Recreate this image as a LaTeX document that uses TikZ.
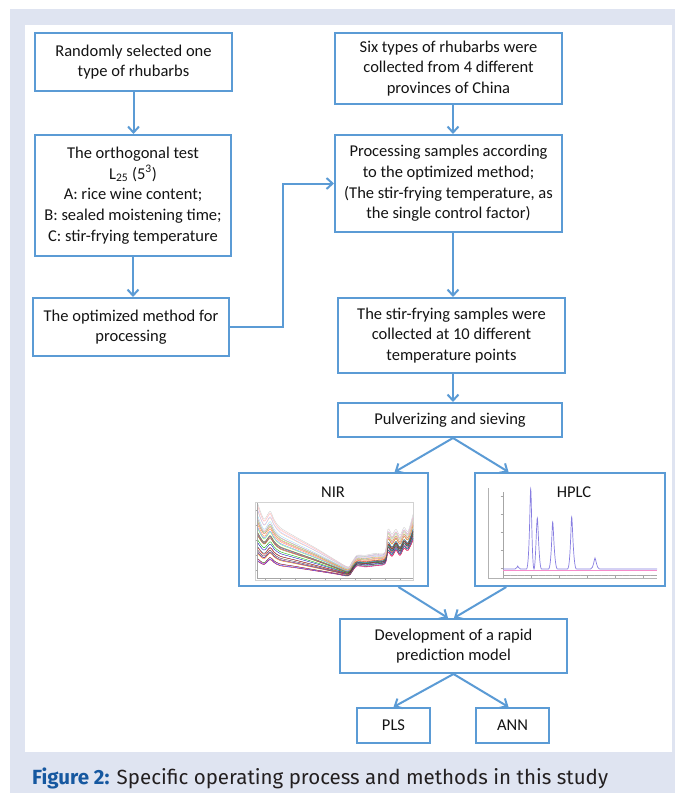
\documentclass[tikz,border=0pt]{standalone}
\usepackage{fontspec}
\setmainfont{Carlito}
\newfontfamily\capfont{Fira Sans}
\usetikzlibrary{arrows.meta,calc}
\definecolor{boxblue}{RGB}{91,155,213}
\definecolor{panelbg}{RGB}{223,228,241}
\definecolor{capblue}{RGB}{22,88,160}
\definecolor{txt}{RGB}{20,20,20}
\definecolor{captxt}{RGB}{35,31,32}
\definecolor{trace}{RGB}{135,125,225}
\begin{document}
\begin{tikzpicture}[x=1pt,y=-1pt,
  box/.style={draw=boxblue, line width=2pt, fill=white, align=center, text=txt,
    font=\fontsize{16.5}{20.6}\selectfont, inner sep=0pt},
  lbl/.style={text=txt, font=\fontsize{16.5}{20.6}\selectfont, inner sep=0pt},
  arr/.style={draw=boxblue, line width=2pt, -{Straight Barb[length=6pt,width=11pt]}},
  nirc/.style={line width=0.35pt}]
\fill[white] (0,0) rectangle (675,793);
\fill[panelbg] (10,9) rectangle (675,793);
\fill[white] (25,25) rectangle (672,752);
\useasboundingbox (0,0) rectangle (675,793);

% boxes
\node[box, minimum width=197pt, minimum height=58pt] (b1) at (133.5,62) {Randomly selected one\\type of rhubarbs};
\node[box, minimum width=227pt, minimum height=71pt] (b2) at (448.5,68.5) {Six types of rhubarbs were\\collected from 4 different\\provinces of China};
\node[box, minimum width=196pt, minimum height=121pt] (ortho) at (133,195.5) {The orthogonal test\\L\textsubscript{25} (5\textsuperscript{3})\\A: rice wine content;\\B: sealed moistening time;\\C: stir-frying temperature};
\node[box, minimum width=196pt, minimum height=58pt] (opt) at (131,327) {The optimized method for\\processing};
\node[box, minimum width=227pt, minimum height=97pt] (proc) at (448.5,183.5) {Processing samples according\\to the optimized method;\\(The stir-frying temperature, as\\the single control factor)};
\node[box, minimum width=227pt, minimum height=75pt] (stir) at (451.5,335.5) {The stir-frying samples were\\collected at 10 different\\temperature points};
\node[box, minimum width=224pt, minimum height=34pt] (pulv) at (450,420) {Pulverizing and sieving};
\node[box, minimum width=189pt, minimum height=113pt] (nir) at (333.5,529.5) {};
\node[box, minimum width=190pt, minimum height=113pt] (hplc) at (570,529.5) {};
\node[box, minimum width=227pt, minimum height=54pt] (dev) at (453.5,646) {Development of a rapid\\prediction model};
\node[box, minimum width=73pt, minimum height=35pt] (pls) at (393.5,725.5) {PLS};
\node[box, minimum width=73pt, minimum height=35pt] (ann) at (512.5,725.5) {ANN};

% NIR plot
\draw[gray!35, line width=0.3pt] (255,502) rectangle (413,580);
\draw[gray!70, line width=0.4pt] (257,503) -- (257,578) -- (413,578);
\foreach \yy in {510,525,540,555,570} \draw[gray!70, line width=0.3pt] (255.5,\yy) -- (257,\yy);
\foreach \xx in {265,280,295,310,325,340,355,370,385,400} \draw[gray!70, line width=0.3pt] (\xx,578) -- (\xx,579.5);
\pgfmathsetseed{7}
\foreach \k/\c in {0/red!80!black, 0.035/blue!80, 0.07/green!60!black, 0.1/magenta, 0.135/cyan!70!black,
  0.17/orange, 0.2/violet, 0.235/black!80, 0.27/teal, 0.3/red, 0.335/blue!70!black, 0.37/green!70!black,
  0.4/olive, 0.435/purple, 0.47/black!70, 0.5/cyan!80!black, 0.535/brown, 0.57/green!60, 0.6/blue!50,
  0.635/magenta!60, 0.67/orange!80, 0.7/yellow!70!black, 0.735/pink, 0.77/green!40, 0.8/violet!40,
  0.835/cyan!40, 0.87/orange!40, 0.9/pink!70, 0.935/blue!25, 0.97/red!25, 1/gray!40} {
  \pgfmathsetmacro\j{4*rand}
  \pgfmathsetmacro\jj{2*rand}
  \draw[nirc, \c] plot[smooth, tension=0.5] coordinates {
    (258,{562-57*\k+\j}) (264,{565-45*\k+\j}) (270,{560-48*\k+0.8*\j}) (274,{563-43*\k+0.8*\j}) (280,{566-38*\k+0.6*\j})
    (295,{568-31*\k+0.5*\j}) (315,{571-23*\k+0.4*\j}) (335,{574-14*\k+0.2*\j}) (348,{576-9*\k}) (352,{572-10*\k})
    (357,{565-9*\k+\jj}) (365,{566-10*\k+\jj}) (375,{565-11*\k+\jj}) (385,{563-10*\k+\jj}) (388,{552-22*\k+\jj})
    (392,{556-21*\k+\jj}) (396,{550-20*\k+\jj}) (400,{555-19*\k+\jj}) (404,{548-20*\k+\jj}) (408,{550-18*\k+\jj})
    (413,{540-25*\k+\jj})};
}
\node[lbl] (nirlabel) at (333,492) {NIR};

% HPLC plot
\draw[gray!60, line width=0.4pt] (488,488) -- (488,578) -- (657,578);
\draw[gray!70, line width=0.4pt] (503,492) -- (503,575) -- (657,575);
\foreach \yy in {496,514,532,550,568} \draw[gray!70, line width=0.3pt] (500.5,\yy) -- (503,\yy);
\foreach \xx in {503,531,559,587,615,643} \draw[gray!70, line width=0.3pt] (\xx,575) -- (\xx,577.5);
\foreach \xx in {510,517,524,538,545,552,566,573,580,594,601,608,622,629,636,650} \draw[gray!60, line width=0.25pt] (\xx,575) -- (\xx,576.3);
\draw[magenta!45, line width=0.4pt] (503,570.5) -- (657,570.5);
\draw[trace, line width=0.7pt] (503,569) -- (515,569)
  .. controls (517,569) and (517.2,566) .. (517.7,566) .. controls (518.2,566) and (518.5,569) .. (520.5,569)
  -- (526.5,569) .. controls (529.5,569) and (530,489) .. (530.7,489) .. controls (531.4,489) and (532,569) .. (534,569)
  .. controls (535.5,569) and (536.6,518) .. (537.3,518) .. controls (538,518) and (539,569) .. (541.5,569)
  -- (548.5,569) .. controls (551.5,569) and (552,522) .. (552.7,522) .. controls (553.4,522) and (554.2,569) .. (557.5,569)
  -- (567.5,569) .. controls (570.5,569) and (571,517) .. (571.7,517) .. controls (572.4,517) and (573.2,569) .. (576.5,569)
  -- (590.5,569) .. controls (593.5,569) and (594.3,558) .. (595,558) .. controls (595.7,558) and (596.7,569) .. (599.5,569)
  -- (657,569);
\node[lbl] (hplclabel) at (574,492) {HPLC};

% connectors
\draw[arr] (b1.south) -- (b1.south |- ortho.north);
\draw[arr] ([xshift=4.5pt]b2.south) -- ([xshift=4.5pt]b2.south |- proc.north);
\draw[arr] (ortho.south) -- (ortho.south |- opt.north);
\draw[arr] (opt.east) -- ++(53,0) |- (proc.west);
\draw[arr] ([xshift=4.5pt]proc.south) -- ([xshift=4.5pt]proc.south |- stir.north);
\draw[arr] ([xshift=1.5pt]stir.south) -- ([xshift=1.5pt]stir.south |- pulv.north);
\draw[arr] ([xshift=3pt]pulv.south) -- ($(nir.north west)!0.82!(nir.north east)$);
\draw[arr] ([xshift=3pt]pulv.south) -- ($(hplc.north west)!0.18!(hplc.north east)$);
\draw[arr] ($(nir.south west)!0.84!(nir.south east)$) -- ($(dev.north west)!0.476!(dev.north east)$);
\draw[arr] ($(hplc.south west)!0.168!(hplc.south east)$) -- ($(dev.north west)!0.502!(dev.north east)$);
\draw[arr] (dev.south) -- (pls.north);
\draw[arr] (dev.south) -- ([xshift=-4pt]ann.north);

% caption
\node[anchor=base west, inner sep=0pt, font=\capfont\fontsize{20.5}{22}\selectfont, text=captxt] (cap) at (32,784)
  {\textcolor{capblue}{\bfseries Figure 2:} Specific operating process and methods in this study};
\end{tikzpicture}
\end{document}
